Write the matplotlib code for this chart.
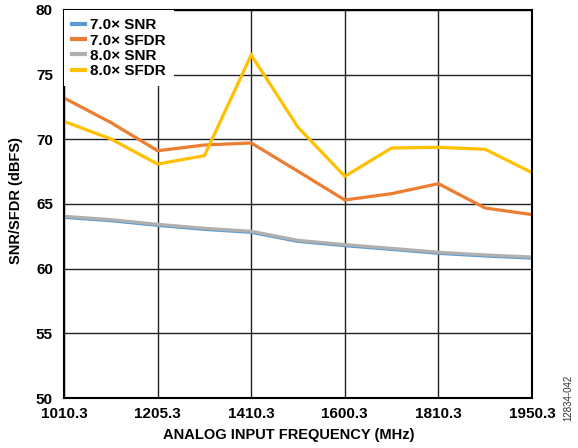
import matplotlib
matplotlib.use("Agg")
import matplotlib.pyplot as plt
import numpy as np

plt.rcParams['font.family'] = ['Liberation Sans', 'DejaVu Sans']

tick_labels = ["1010.3", "1205.3", "1410.3", "1600.3", "1810.3", "1950.3"]
n_points = 11

snr_7 = [63.97, 63.71, 63.35, 63.04, 62.81, 62.11, 61.78, 61.49, 61.19, 60.98, 60.82]
sfdr_7 = [73.2, 71.3, 69.12, 69.56, 69.72, 67.53, 65.31, 65.8, 66.57, 64.69, 64.18]
snr_8 = [64.05, 63.79, 63.43, 63.12, 62.89, 62.19, 61.86, 61.57, 61.27, 61.06, 60.9]
sfdr_8 = [71.39, 70.03, 68.09, 68.74, 76.52, 70.93, 67.14, 69.33, 69.38, 69.23, 67.42]

series_names = ["7.0× SNR", "7.0× SFDR", "8.0× SNR", "8.0× SFDR"]
colors = ["#5B9BD5", "#ED7D31", "#B0B0B0", "#FFC000"]

fig = plt.figure(figsize=(5.78, 4.48), dpi=100)
ax = fig.add_axes([64/578, 1-398/448, (532-64)/578, (398-10)/448])

x = np.arange(n_points)
for vals, name, c in zip([snr_7, sfdr_7, snr_8, sfdr_8], series_names, colors):
    ax.plot(x, vals, color=c, lw=2.3, label=name, solid_joinstyle='miter')

ax.set_xlim(0, n_points - 1)
ax.set_ylim(50, 80)
ax.set_xticks(np.arange(0, n_points, 2))
ax.set_xticklabels(tick_labels)
ax.set_yticks(np.arange(50, 81, 5))
ax.grid(True, color='#222222', lw=1.0)
ax.set_axisbelow(True)
ax.tick_params(axis='x', length=0, labelsize=11, pad=6.5)
ax.tick_params(axis='y', length=0, labelsize=11, pad=8)
for lab in ax.get_xticklabels() + ax.get_yticklabels():
    lab.set_fontweight('bold')
for s in ax.spines.values():
    s.set_linewidth(1.5)
    s.set_color('black')

fig.text(289/578, 1-435/448, "ANALOG INPUT FREQUENCY (MHz)", fontsize=10.5,
         fontweight='bold', ha='center', va='center')
fig.text(16/578, 1-201/448, "SNR/SFDR (dBFS)", fontsize=10.5, fontweight='bold',
         rotation=90, ha='center', va='center')

leg = ax.legend(loc='upper left', frameon=True, fancybox=False, framealpha=1,
                edgecolor='white', prop={'weight': 'bold', 'size': 11},
                handlelength=0.85, handletextpad=0.3, labelspacing=0.08,
                borderpad=0.55, borderaxespad=0.0)
leg.get_frame().set_linewidth(0)
for line in leg.get_lines():
    line.set_linewidth(3)

fig.text(568/578, 1-398/448, "12834-042", rotation=90, fontsize=7, color='#333333',
         ha='center', va='center')

fig.savefig("out.png", dpi=100)
